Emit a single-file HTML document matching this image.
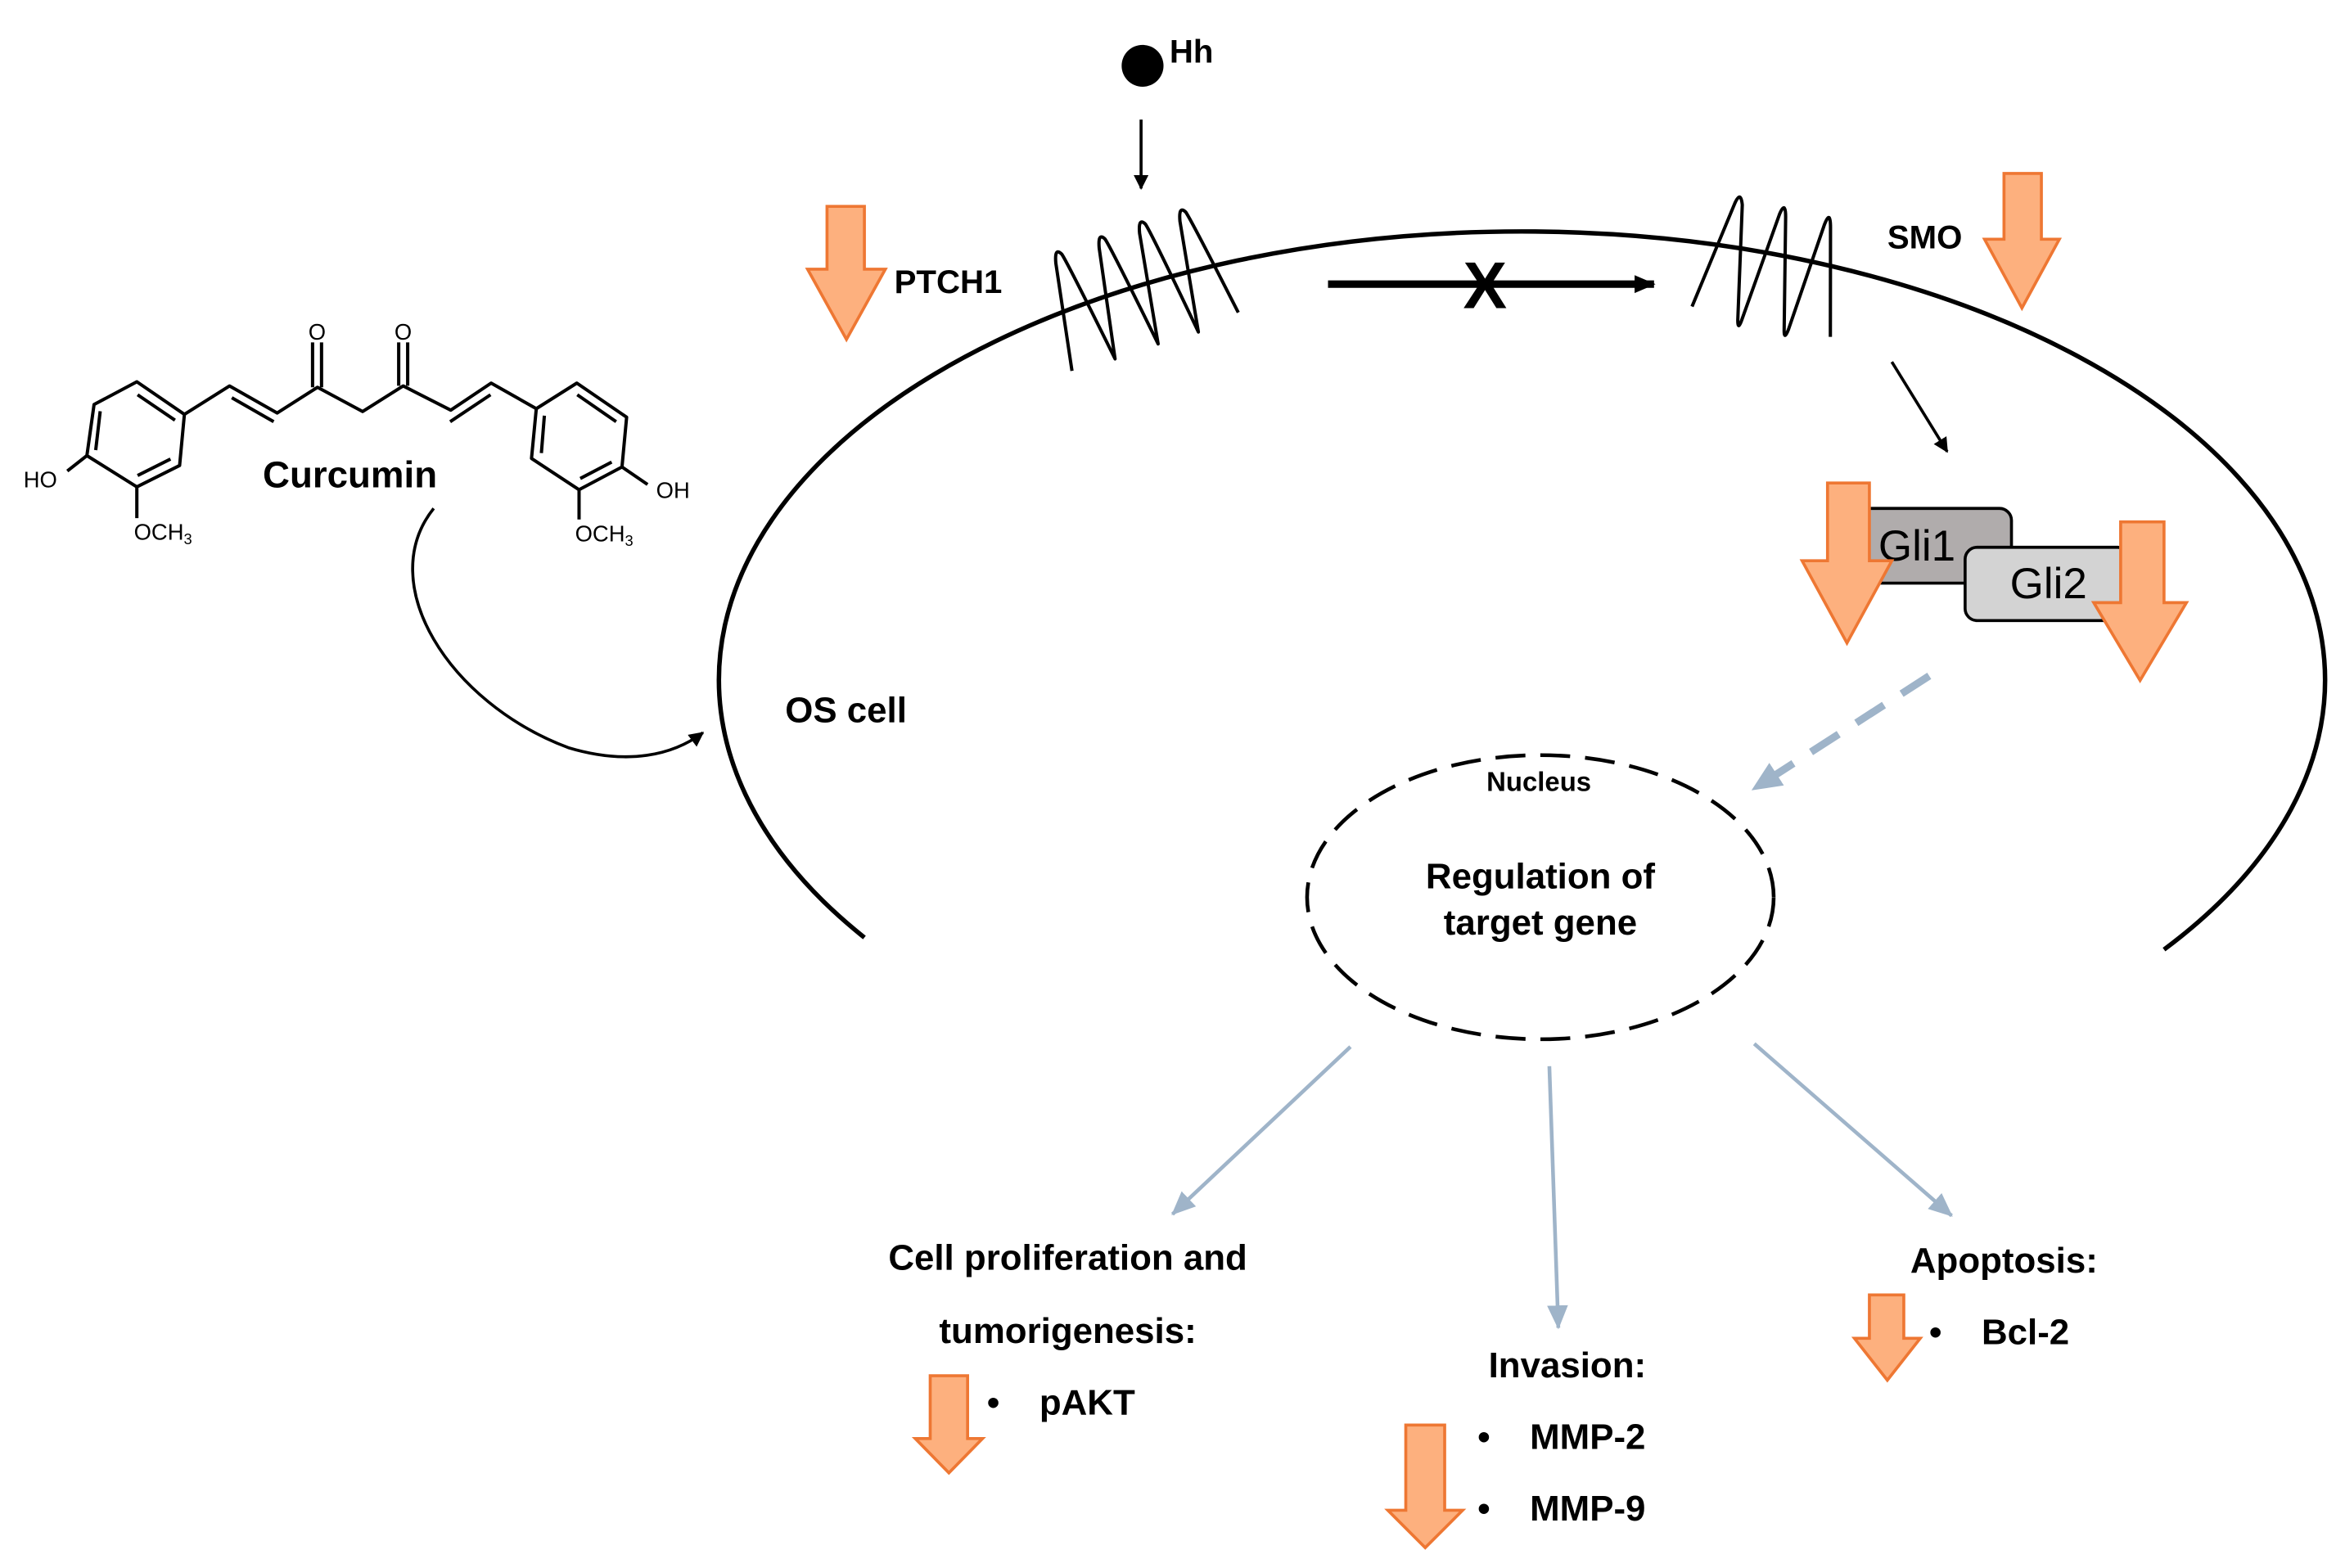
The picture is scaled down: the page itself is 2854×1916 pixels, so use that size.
<!DOCTYPE html>
<html><head><meta charset="utf-8"><style>
html,body{margin:0;padding:0;background:#fff;}
svg{display:block;}
text{font-family:"Liberation Sans",Arial,sans-serif;}
</style></head><body>
<svg width="2854" height="1916" viewBox="0 0 1562 1048.6" preserveAspectRatio="none" xmlns="http://www.w3.org/2000/svg">
<defs>
<marker id="ab" markerWidth="10" markerHeight="10" refX="9" refY="5" orient="auto" markerUnits="userSpaceOnUse"><path d="M0,0 L10,5 L0,10 Z" fill="#000"/></marker>
<marker id="ab2" markerWidth="14" markerHeight="14" refX="13" refY="7" orient="auto" markerUnits="userSpaceOnUse"><path d="M0,1 L14,7 L0,13 Z" fill="#000"/></marker>
<marker id="bl" markerWidth="16" markerHeight="14" refX="15" refY="7" orient="auto" markerUnits="userSpaceOnUse"><path d="M0,0 L16,7 L0,14 Z" fill="#9fb4c9"/></marker>
<marker id="bl2" markerWidth="20" markerHeight="18" refX="19" refY="9" orient="auto" markerUnits="userSpaceOnUse"><path d="M0,0 L20,9 L0,18 Z" fill="#9fb4c9"/></marker>
</defs>

<!-- cell membrane -->
<path d="M578,627 A537,300 0 1 1 1447,635" fill="none" stroke="#000" stroke-width="3"/>

<!-- Hh -->
<circle cx="764" cy="44" r="14" fill="#000"/>
<text x="782" y="42" font-size="22" font-weight="bold">Hh</text>
<line x1="763" y1="80" x2="763" y2="126" stroke="#000" stroke-width="2" marker-end="url(#ab)"/>

<!-- PTCH1 coil -->
<path d="M716.8,248 L706,176 Q705,165 710,170 Q714,176 745.6,240 L735,166 Q734,155 739,160 Q743,166 774.4,230 L762,156 Q761,145 766,150 Q770,156 801.3,222 L789,148 Q788,137 793,142 Q797,148 828,209" fill="none" stroke="#000" stroke-width="2.2" stroke-linejoin="round"/>
<!-- SMO coil -->
<path d="M1131.4,205 L1160,136 Q1164,127 1165,137 L1162,214 Q1162,222 1165,213 L1190,143 Q1194,134 1194,145 L1193,221 Q1193,228 1196,220 L1220,150 Q1224,140 1224,152 L1223.9,225.3" fill="none" stroke="#000" stroke-width="2.2" stroke-linejoin="round"/>

<text x="598" y="196" font-size="22" font-weight="bold">PTCH1</text>
<text x="1262" y="166" font-size="22" font-weight="bold">SMO</text>

<!-- blocked arrow -->
<line x1="888" y1="190" x2="1106" y2="190" stroke="#000" stroke-width="5" marker-end="url(#ab2)"/>
<text x="993" y="206" font-size="44" font-weight="bold" text-anchor="middle">X</text>

<line x1="1265" y1="242" x2="1302" y2="302" stroke="#000" stroke-width="2" marker-end="url(#ab)"/>

<!-- Gli boxes -->
<rect x="1240" y="340" width="105" height="50" rx="8" fill="#b0acac" stroke="#000" stroke-width="2"/>
<text x="1256" y="375" font-size="29">Gli1</text>
<rect x="1314" y="366" width="110" height="49" rx="8" fill="#d3d3d3" stroke="#000" stroke-width="2"/>
<text x="1344" y="400" font-size="29">Gli2</text>

<!-- orange arrows -->
<g fill="#fdb07e" stroke="#ee7733" stroke-width="2">
<path d="M553,138 H578 V180 H592 L566,227 L540,180 H553 Z"/>
<path d="M1340,116 H1365 V160 H1377 L1352,206 L1327,160 H1340 Z"/>
<path d="M1222,323 H1250 V375 H1265 L1235,430 L1205,375 H1222 Z"/>
<path d="M1418,349 H1447 V403 H1462 L1431,455 L1400,403 H1418 Z"/>
<path d="M622,920 H647 V962 H657 L634.5,985 L612,962 H622 Z"/>
<path d="M940,953 H966 V1010 H978 L953,1035 L928,1010 H940 Z"/>
<path d="M1250,866 H1273 V895 H1284 L1262,923 L1240,895 H1250 Z"/>
</g>

<!-- dashed blue arrow -->
<line x1="1290" y1="452" x2="1172" y2="528" stroke="#9fb4c9" stroke-width="5" stroke-dasharray="22,14" marker-end="url(#bl2)"/>

<!-- nucleus -->
<ellipse cx="1030" cy="600" rx="156" ry="95" fill="none" stroke="#000" stroke-width="2.5" stroke-dasharray="20,10"/>
<text x="1029" y="529" font-size="18" font-weight="bold" text-anchor="middle">Nucleus</text>
<text x="1030" y="594" font-size="24" font-weight="bold" text-anchor="middle">Regulation of</text>
<text x="1030" y="625" font-size="24" font-weight="bold" text-anchor="middle">target gene</text>

<text x="525" y="483" font-size="24" font-weight="bold">OS cell</text>

<!-- curcumin arrow -->
<path d="M290,340 C250,390 300,470 380,500 C420,512 450,505 470,490" fill="none" stroke="#000" stroke-width="2" marker-end="url(#ab)"/>

<!-- blue outcome arrows -->
<line x1="903" y1="700" x2="784" y2="812" stroke="#9fb4c9" stroke-width="2.5" marker-end="url(#bl)"/>
<line x1="1036" y1="713" x2="1042" y2="888" stroke="#9fb4c9" stroke-width="2.5" marker-end="url(#bl)"/>
<line x1="1173" y1="698" x2="1305" y2="813" stroke="#9fb4c9" stroke-width="2.5" marker-end="url(#bl)"/>

<g font-size="24" font-weight="bold">
<text x="714" y="849" text-anchor="middle">Cell proliferation and</text>
<text x="714" y="898" text-anchor="middle">tumorigenesis:</text>
<text x="660" y="946">•</text><text x="695" y="946">pAKT</text>
<text x="1048" y="921" text-anchor="middle">Invasion:</text>
<text x="988" y="969">•</text><text x="1023" y="969">MMP-2</text>
<text x="988" y="1017">•</text><text x="1023" y="1017">MMP-9</text>
<text x="1340" y="851" text-anchor="middle">Apoptosis:</text>
<text x="1290" y="899">•</text><text x="1325" y="899">Bcl-2</text>
</g>

<!-- curcumin structure -->
<g fill="none" stroke="#000" stroke-width="2.2" stroke-linejoin="round">
<polygon points="91.5,255.3 123.3,277.1 120.1,311.3 91.5,325.6 58.1,304.7 62.9,270.5"/>
<line x1="92" y1="264" x2="117" y2="281"/>
<line x1="67" y1="275" x2="64" y2="301"/>
<line x1="114" y1="307" x2="92" y2="318"/>
<polyline points="123.3,277.1 153.5,258.1 185.3,276.2 212.3,259 242.5,275.2 269.6,258.1 301.4,274.3 328.4,256.2 358.6,273.3"/>
<line x1="155" y1="266" x2="183" y2="282"/>
<line x1="301" y1="282" x2="328" y2="264"/>
<line x1="209" y1="259" x2="209" y2="229"/><line x1="215" y1="259" x2="215" y2="229"/>
<line x1="266.6" y1="258" x2="266.6" y2="229"/><line x1="272.6" y1="258" x2="272.6" y2="229"/>
<polygon points="358.6,273.3 385.7,256.2 419,279 415.9,312.3 387.2,327.5 355.4,306.6"/>
<line x1="386" y1="264" x2="412" y2="282"/>
<line x1="364" y1="278" x2="362" y2="303"/>
<line x1="409" y1="309" x2="388" y2="320"/>
<line x1="58.1" y1="304.7" x2="45" y2="315"/>
<line x1="415.9" y1="312.3" x2="433" y2="324"/>
<line x1="91.5" y1="325.6" x2="91.5" y2="346.5"/>
<line x1="387.2" y1="327.5" x2="387.2" y2="347.4"/>
</g>
<g font-family="Liberation Serif,serif" font-size="15">
<text x="212" y="227" text-anchor="middle">O</text>
<text x="269.6" y="227" text-anchor="middle">O</text>
<text x="27" y="326" text-anchor="middle">HO</text>
<text x="450" y="333" text-anchor="middle">OH</text>
<text x="109" y="361" text-anchor="middle">OCH<tspan font-size="10" dy="3">3</tspan></text>
<text x="404" y="362" text-anchor="middle">OCH<tspan font-size="10" dy="3">3</tspan></text>
</g>
<text x="234" y="326" font-size="25" font-weight="bold" text-anchor="middle">Curcumin</text>
</svg>
</body></html>
